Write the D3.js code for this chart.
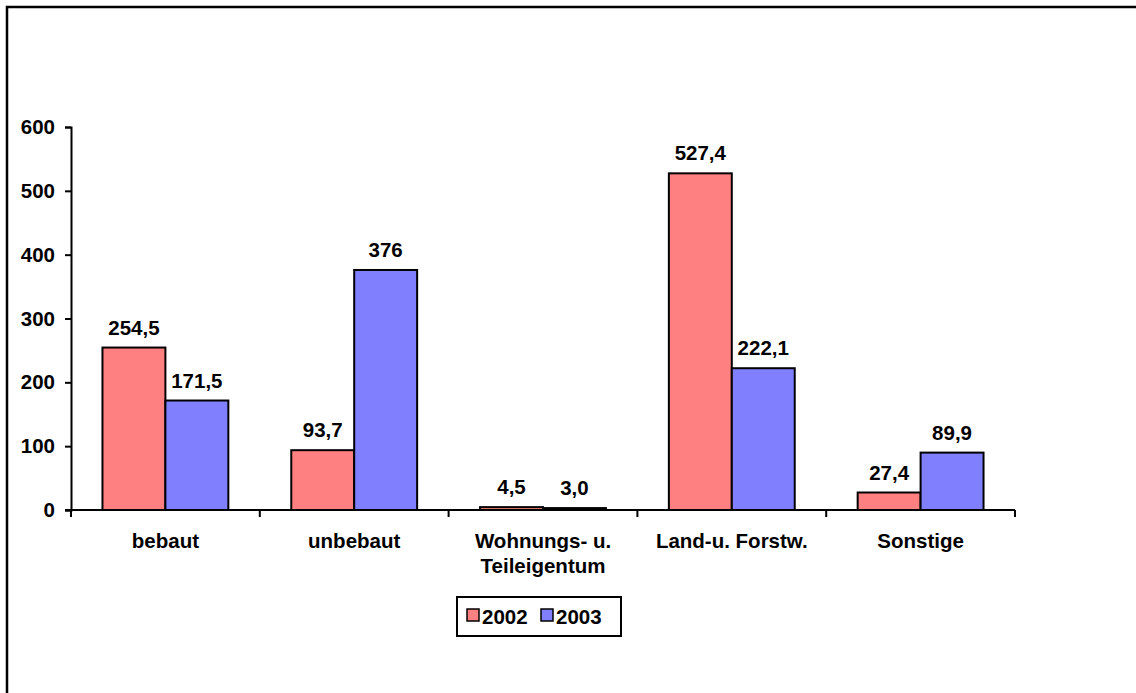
<!DOCTYPE html>
<html>
<head>
<meta charset="utf-8">
<script src="https://cdn.jsdelivr.net/npm/d3@7"></script>
<style>
  html, body { margin: 0; padding: 0; background: #fff; }
  svg { display: block; }
  text { font-family: "Liberation Sans", Arial, sans-serif; font-weight: bold; fill: #000; }
</style>
</head>
<body>
<svg id="chart" width="1136" height="693"></svg>
<script>
// Categories (label lines) and series
const categories = ["bebaut", "unbebaut", "Wohnungs- u. Teileigentum", "Land-u. Forstw.", "Sonstige"];
const categoryLines = [["bebaut"], ["unbebaut"], ["Wohnungs- u.", "Teileigentum"], ["Land-u. Forstw."], ["Sonstige"]];
const seriesNames = ["2002", "2003"];
const values2002 = [254.5, 93.7, 4.5, 527.4, 27.4];
const values2003 = [171.5, 376, 3.0, 222.1, 89.9];
const decimals2002 = [1, 1, 1, 1, 1];
const decimals2003 = [1, 0, 1, 1, 1];
const yTicks = [0, 100, 200, 300, 400, 500, 600];
const seriesColors = ["#FF8080", "#8080FF"];

const FONT = 20.5;
const svg = d3.select("#chart");

// outer frame (right and bottom edges run past the page)
svg.append("rect")
  .attr("x", 7).attr("y", 7)
  .attr("width", 1140).attr("height", 700)
  .attr("fill", "none").attr("stroke", "#000").attr("stroke-width", 2.5);

const plot = { left: 71, right: 1015, top: 127, bottom: 510 };

const x = d3.scaleBand().domain(categories).range([plot.left, plot.right]).padding(0);
const bw = x.bandwidth();
const xs = d3.scaleBand().domain(seriesNames).range([bw / 6, bw * 5 / 6]).padding(0);
const y = d3.scaleLinear().domain([0, 600]).range([plot.bottom, plot.top]);

const rows = categories.map((c, i) => ({
  cat: c,
  items: [
    { s: seriesNames[0], v: values2002[i], d: decimals2002[i], color: seriesColors[0] },
    { s: seriesNames[1], v: values2003[i], d: decimals2003[i], color: seriesColors[1] }
  ]
}));

const fmt = (v, d) => d3.format("." + d + "f")(v).replace(".", ",");

// bars
const groups = svg.append("g").selectAll("g").data(rows).join("g")
  .attr("transform", r => `translate(${x(r.cat)},0)`);

groups.selectAll("rect").data(r => r.items).join("rect")
  .attr("x", d => xs(d.s))
  .attr("y", d => y(d.v))
  .attr("width", xs.bandwidth())
  .attr("height", d => y(0) - y(d.v))
  .attr("fill", d => d.color)
  .attr("stroke", "#000").attr("stroke-width", 2);

groups.selectAll("text").data(r => r.items).join("text")
  .attr("x", d => xs(d.s) + xs.bandwidth() / 2)
  .attr("y", d => y(d.v) - 13)
  .attr("text-anchor", "middle")
  .attr("font-size", FONT)
  .text(d => fmt(d.v, d.d));

// y axis
const yAxis = svg.append("g")
  .attr("transform", `translate(${plot.left},0)`)
  .call(d3.axisLeft(y).tickValues(yTicks).tickSize(6).tickPadding(10).tickFormat(d3.format("d")));
yAxis.select(".domain").attr("stroke", "#000").attr("stroke-width", 2);
yAxis.selectAll(".tick line").attr("stroke", "#000").attr("stroke-width", 2);
yAxis.selectAll(".tick text").attr("font-size", FONT).attr("font-family", null).attr("fill", "#000");

// x axis with ticks between categories
const boundaries = categories.map(c => x(c)).concat([plot.right]);
const xAxis = svg.append("g").attr("transform", `translate(0,${plot.bottom})`);
xAxis.append("line")
  .attr("x1", plot.left - 6).attr("x2", plot.right)
  .attr("stroke", "#000").attr("stroke-width", 2);
xAxis.selectAll("line.tk").data(boundaries).join("line").attr("class", "tk")
  .attr("x1", d => d).attr("x2", d => d).attr("y1", 0).attr("y2", 7)
  .attr("stroke", "#000").attr("stroke-width", 2);

const catText = xAxis.selectAll("text").data(categories).join("text")
  .attr("text-anchor", "middle")
  .attr("font-size", FONT)
  .attr("transform", c => `translate(${x(c) + bw / 2},38)`);
catText.selectAll("tspan").data((c, i) => categoryLines[i]).join("tspan")
  .attr("x", 0).attr("dy", (d, i) => i === 0 ? 0 : 25)
  .text(d => d);

// legend
const legend = svg.append("g").attr("transform", "translate(457,597)");
legend.append("rect").attr("width", 164).attr("height", 39)
  .attr("fill", "#fff").attr("stroke", "#000").attr("stroke-width", 2);
const li = legend.selectAll("g").data(seriesNames).join("g")
  .attr("transform", (d, i) => `translate(${10 + i * 74},0)`);
li.append("rect").attr("x", 0).attr("y", 12).attr("width", 12).attr("height", 12)
  .attr("fill", (d, i) => seriesColors[i]).attr("stroke", "#000").attr("stroke-width", 1.5);
li.append("text").attr("x", 15).attr("y", 27).attr("font-size", FONT).text(d => d);
</script>
</body>
</html>
